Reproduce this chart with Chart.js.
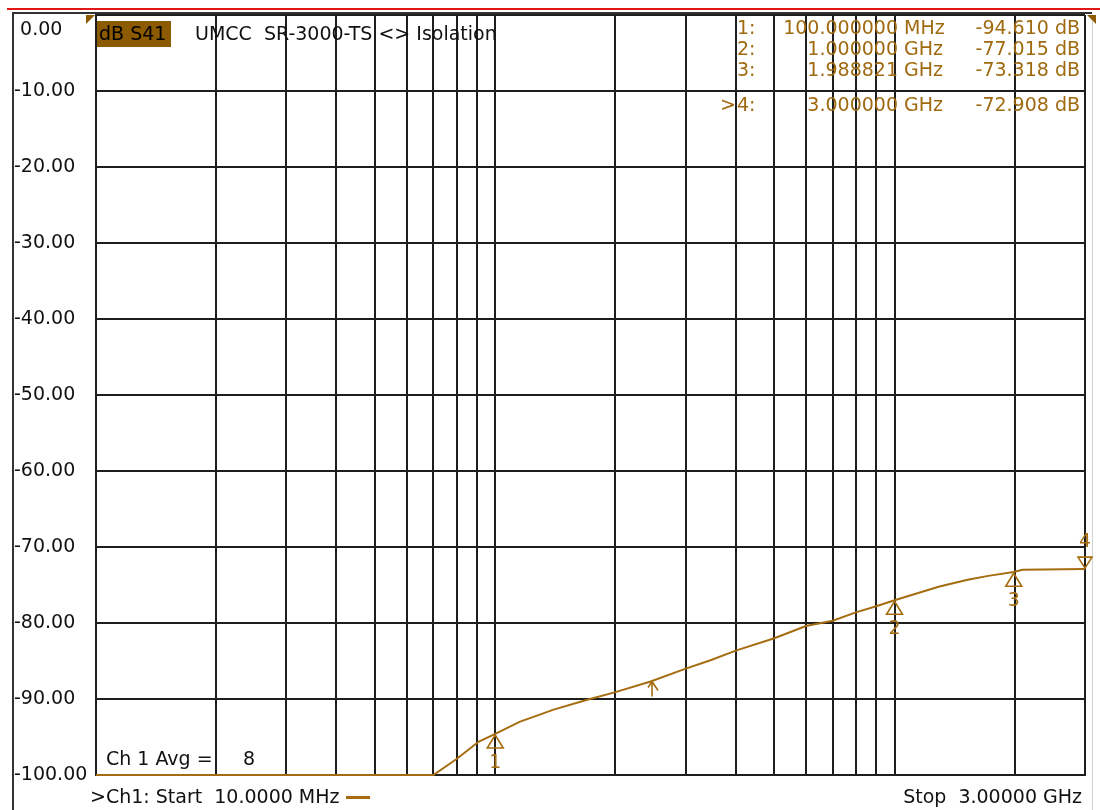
<!DOCTYPE html>
<html>
<head>
<meta charset="utf-8">
<script src="https://cdn.jsdelivr.net/npm/chart.js@4/dist/chart.umd.min.js"></script>
<style>
  html, body { margin: 0; padding: 0; background: #fff; }
  #wrap { width: 1100px; height: 810px; }
</style>
</head>
<body>
<div id="wrap"><canvas id="chart" width="1100" height="810"></canvas></div>
<script>
// S41 isolation trace (frequency in MHz, level in dB)
const freqMHz = [10, 70, 80, 91, 100, 115, 140, 170, 200, 245, 300, 346, 402, 500, 600, 700, 800, 900, 1000, 1296, 1526, 1717, 1989, 2090, 3000];
const s41dB = [-100, -100, -97.9, -95.6, -94.6, -93.0, -91.4, -90.1, -89.1, -87.7, -86.0, -84.9, -83.6, -82.0, -80.4, -79.7, -78.6, -77.8, -77.0, -75.2, -74.3, -73.8, -73.3, -73.0, -72.9];

// vertical grid positions (log 1..9 per decade)
const gridFreqs = [10, 20, 30, 40, 50, 60, 70, 80, 90, 100, 200, 300, 400, 500, 600, 700, 800, 900, 1000, 2000, 3000];

// markers
const markerNames = ["1", "2", "3", "4"];
const markerFreq = [100, 1000, 1988.821, 3000];
const markerDb = [-94.61, -77.015, -73.318, -72.908];
const markerFreqText = ["100.000000", "1.000000", "1.988821", "3.000000"];
const markerUnit = ["MHz", "GHz", "GHz", "GHz"];
const markerDbText = ["-94.610 dB", "-77.015 dB", "-73.318 dB", "-72.908 dB"];
const refMarkerFreq = [247];
const refMarkerDb = [-87.7];

const TRACE = "#a56c10";
const FONT = "DejaVu Sans";

const overlay = {
  id: "overlay",
  beforeDraw(chart) {
    const ctx = chart.ctx;
    ctx.save();
    ctx.fillStyle = "#fff";
    ctx.fillRect(0, 0, chart.width, chart.height);
    // window frame
    ctx.fillStyle = "#e01818";
    ctx.fillRect(7, 8, 1093, 2);
    ctx.fillStyle = "#333";
    ctx.fillRect(12, 12, 1080, 2);
    ctx.fillRect(12, 12, 2, 798);
    ctx.fillStyle = "#d0d0d0";
    ctx.fillRect(1092, 14, 1, 796);
    ctx.restore();
  },
  afterDraw(chart) {
    const ctx = chart.ctx;
    const xs = chart.scales.x, ys = chart.scales.y;
    const area = chart.chartArea;
    ctx.save();
    ctx.textBaseline = "middle";
    ctx.font = `19px "${FONT}"`;

    // corner flags
    ctx.fillStyle = "#8c5a00";
    ctx.beginPath(); ctx.moveTo(86, 15); ctx.lineTo(95, 15); ctx.lineTo(86, 24); ctx.closePath(); ctx.fill();
    ctx.beginPath(); ctx.moveTo(1087, 15); ctx.lineTo(1096, 15); ctx.lineTo(1096, 24); ctx.closePath(); ctx.fill();

    // header
    ctx.fillStyle = "#8c5a00";
    ctx.fillRect(97, 21, 74, 26);
    ctx.fillStyle = "#000";
    ctx.textAlign = "left";
    ctx.fillText("dB S41", 99, 35);
    ctx.fillStyle = "#111";
    ctx.fillText("UMCC  SR-3000-TS <> Isolation", 195, 35);

    // marker readout
    const rowY = [29, 50, 71, 106];
    ctx.fillStyle = "#a06a10";
    markerNames.forEach((n, i) => {
      const y = rowY[i];
      ctx.textAlign = "left";
      ctx.fillText(n + ":", 737, y);
      if (i === 3) ctx.fillText(">", 720, y);
      ctx.textAlign = "right";
      ctx.fillText(markerFreqText[i], 898, y);
      ctx.textAlign = "left";
      ctx.fillText(markerUnit[i], 904, y);
      ctx.textAlign = "right";
      ctx.fillText(markerDbText[i], 1080, y);
    });

    // markers on trace
    ctx.strokeStyle = TRACE;
    ctx.fillStyle = TRACE;
    ctx.lineWidth = 1.6;
    ctx.textAlign = "center";
    markerFreq.forEach((f, i) => {
      const px = Math.min(xs.getPixelForValue(f), area.right);
      const py = ys.getPixelForValue(markerDb[i]);
      ctx.beginPath();
      if (i === 3) {
        ctx.moveTo(px, py - 1); ctx.lineTo(px - 7, py - 12); ctx.lineTo(px + 7, py - 12); ctx.closePath();
        ctx.stroke();
        ctx.fillText(markerNames[i], px, py - 27);
      } else {
        ctx.moveTo(px, py + 1); ctx.lineTo(px - 8, py + 14); ctx.lineTo(px + 8, py + 14); ctx.closePath();
        ctx.stroke();
        ctx.fillText(markerNames[i], px, py + 29);
      }
    });
    refMarkerFreq.forEach((f, i) => {
      const px = xs.getPixelForValue(f);
      const py = ys.getPixelForValue(refMarkerDb[i]);
      ctx.beginPath();
      ctx.moveTo(px, py); ctx.lineTo(px, py + 15);
      ctx.moveTo(px, py); ctx.lineTo(px - 4, py + 6);
      ctx.moveTo(px, py); ctx.lineTo(px + 6, py + 9);
      ctx.stroke();
    });

    // status texts
    ctx.fillStyle = "#111";
    ctx.textAlign = "left";
    ctx.fillText("Ch 1 Avg =", 106, 760);
    ctx.fillText("8", 243, 760);
    ctx.fillText(">Ch1: Start  10.0000 MHz", 90, 798);
    ctx.textAlign = "right";
    ctx.fillText("Stop  3.00000 GHz", 1082, 798);
    ctx.fillStyle = TRACE;
    ctx.fillRect(346, 796, 24, 3);
    ctx.restore();
  }
};

new Chart(document.getElementById("chart"), {
  type: "line",
  data: {
    datasets: [{
      data: freqMHz.map((f, i) => ({ x: f, y: s41dB[i] })),
      borderColor: TRACE,
      borderWidth: 2,
      pointRadius: 0,
      tension: 0,
      clip: 2
    }]
  },
  options: {
    responsive: false,
    animation: false,
    layout: { padding: { left: 14, right: 15, top: 15, bottom: 35 } },
    plugins: { legend: { display: false }, tooltip: { enabled: false } },
    scales: {
      x: {
        type: "logarithmic",
        min: 10,
        max: 3000,
        afterBuildTicks: s => { s.ticks = gridFreqs.map(v => ({ value: v })); },
        afterFit: s => { s.height = 0; s.paddingLeft = 0; s.paddingRight = 0; },
        ticks: { display: false },
        grid: { color: "#1e1e1e", lineWidth: 2, drawTicks: false },
        border: { color: "#1e1e1e", width: 2 }
      },
      y: {
        min: -100,
        max: 0,
        afterFit: s => { s.width = 82; s.paddingTop = 0; s.paddingBottom = 0; },
        ticks: {
          stepSize: 10,
          crossAlign: "far",
          color: "#111",
          font: { family: FONT, size: 19, lineHeight: 1.6 },
          callback: v => v === 0 ? ["", " 0.00"] : v.toFixed(2)
        },
        grid: { color: "#1e1e1e", lineWidth: 2, drawTicks: false },
        border: { color: "#1e1e1e", width: 2 }
      }
    }
  },
  plugins: [overlay]
});
</script>
</body>
</html>
